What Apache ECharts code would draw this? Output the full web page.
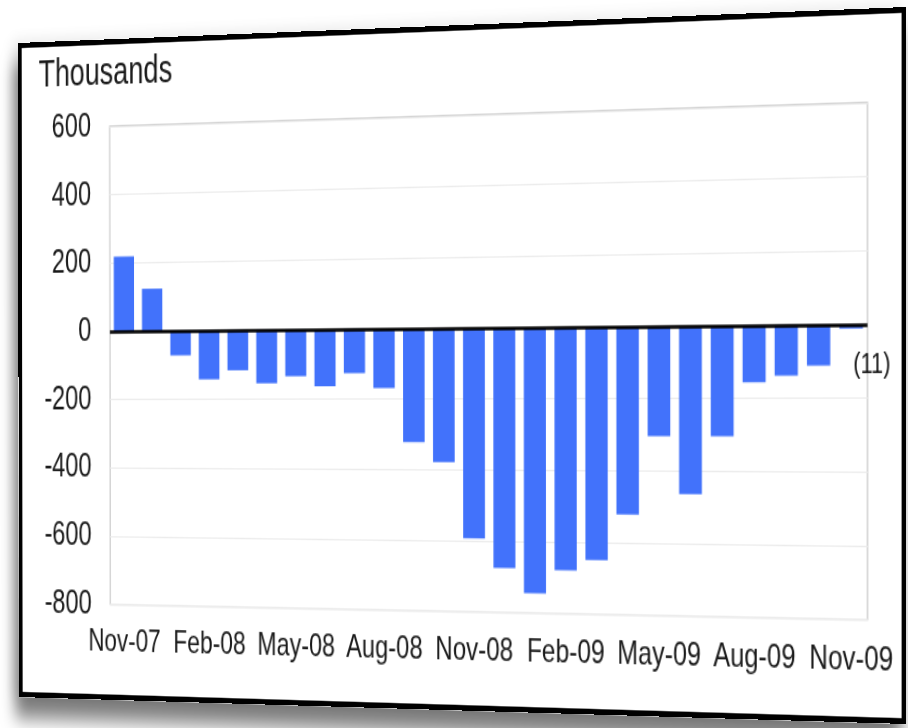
<!DOCTYPE html>
<html><head><meta charset="utf-8">
<script src="https://cdn.jsdelivr.net/npm/echarts@6/dist/echarts.min.js"></script>
<style>
html,body{margin:0;padding:0;background:#fff;width:908px;height:728px;overflow:hidden}
#frame{position:absolute;left:0;top:0;width:886px;height:500px;transform-origin:0 0;background:#fff;box-shadow:-4px 16px 14px rgba(0,0,0,0.5), -6px 0 12px rgba(0,0,0,0.12)}
#chart{position:absolute;left:0;top:0;width:886px;height:500px}
#border{position:absolute;left:0;top:0;right:0;bottom:0;border:4px solid #000;box-sizing:border-box;pointer-events:none}
</style></head>
<body><div id="frame"><div id="chart"></div><div id="border"></div></div>
<script>
// ---- data ----
const categories = ['Nov-07','Dec-07','Jan-08','Feb-08','Mar-08','Apr-08','May-08','Jun-08','Jul-08','Aug-08','Sep-08','Oct-08',
  'Nov-08','Dec-08','Jan-09','Feb-09','Mar-09','Apr-09','May-09','Jun-09','Jul-09','Aug-09','Sep-09','Oct-09','Nov-09'];
const payrollChange = [218,123,-72,-142,-116,-154,-134,-163,-126,-169,-323,-379,
  -593,-676,-745,-680,-650,-522,-304,-464,-304,-156,-138,-111,-11];
const lastLabel = '(11)';
const yMin = -800, yMax = 600, yStep = 200;
const unitTitle = 'Thousands';

// ---- perspective placement ----
const W = 886, HS = 500;
const frameQuad = [[18,43],[906,7],[906,724],[19,697]];   // TL TR BR BL (screen)
const plotQuad  = [[110,128],[868,101],[867,622],[110,602]];

function sq2quad(p){
  const [x0,y0]=p[0],[x1,y1]=p[1],[x2,y2]=p[2],[x3,y3]=p[3];
  const dx1=x1-x2, dx2=x3-x2, dx3=x0-x1+x2-x3;
  const dy1=y1-y2, dy2=y3-y2, dy3=y0-y1+y2-y3;
  const den=dx1*dy2-dx2*dy1;
  const g=(dx3*dy2-dx2*dy3)/den, h=(dx1*dy3-dx3*dy1)/den;
  return [[x1-x0+g*x1, x3-x0+h*x3, x0],[y1-y0+g*y1, y3-y0+h*y3, y0],[g,h,1]];
}
const M = sq2quad(frameQuad);
const H = M.map(r=>[r[0]/W, r[1]/HS, r[2]]);
const m3d = [H[0][0],H[1][0],0,H[2][0], H[0][1],H[1][1],0,H[2][1], 0,0,1,0, H[0][2],H[1][2],0,H[2][2]];
document.getElementById('frame').style.transform = 'matrix3d('+m3d.join(',')+')';
function inv3(a){
  const [[a0,a1,a2],[b0,b1,b2],[c0,c1,c2]]=a;
  const A=b1*c2-b2*c1, B=-(b0*c2-b2*c0), C=b0*c1-b1*c0;
  const det=a0*A+a1*B+a2*C;
  return [[A/det,-(a1*c2-a2*c1)/det,(a1*b2-a2*b1)/det],
          [B/det,(a0*c2-a2*c0)/det,-(a0*b2-a2*b0)/det],
          [C/det,-(a0*c1-a1*c0)/det,(a0*b1-a1*b0)/det]];
}
const Hi = inv3(H);
function toSrc(p){
  const x=Hi[0][0]*p[0]+Hi[0][1]*p[1]+Hi[0][2];
  const y=Hi[1][0]*p[0]+Hi[1][1]*p[1]+Hi[1][2];
  const w=Hi[2][0]*p[0]+Hi[2][1]*p[1]+Hi[2][2];
  return [x/w,y/w];
}
const s = plotQuad.map(toSrc);
const gLeft = (s[0][0]+s[3][0])/2, gRight = W-(s[1][0]+s[2][0])/2;
const gTop = (s[0][1]+s[1][1])/2, gBottom = HS-(s[2][1]+s[3][1])/2;
const tPos = toSrc([34,57]);

const chart = echarts.init(document.getElementById('chart'), null, {renderer:'canvas'});
const FONT = 'Liberation Sans, Arial, sans-serif';
chart.setOption({
  animation:false,
  backgroundColor:'#fff',
  title:{text:unitTitle, left:tPos[0], top:tPos[1]-5, textStyle:{fontFamily:FONT, fontSize:29, fontWeight:'normal', color:'#1a1a1a'}},
  grid:{left:gLeft, right:gRight, top:gTop, bottom:gBottom, show:true, borderColor:'#c8c8c8', borderWidth:1.2, containLabel:false},
  xAxis:{type:'category', data:categories,
    axisLine:{show:false}, axisTick:{show:false},
    axisLabel:{interval:2, margin:17, fontFamily:FONT, fontSize:24, color:'#1a1a1a'}},
  yAxis:{type:'value', min:yMin, max:yMax, interval:yStep,
    axisLine:{show:false}, axisTick:{show:false},
    splitLine:{lineStyle:{color:'#ececec', width:1}},
    axisLabel:{margin:20, fontFamily:FONT, fontSize:25.5, color:'#1a1a1a'}},
  series:[{type:'bar', barCategoryGap:'28%',
    itemStyle:{color:'#4272fb'},
    data: payrollChange.map((v,i)=> i===payrollChange.length-1
      ? {value:v, label:{show:true, formatter:lastLabel, position:'bottom', offset:[19,11], fontFamily:FONT, fontSize:20, color:'#111'}}
      : v),
    markLine:{silent:true, symbol:['none','none'], label:{show:false},
      lineStyle:{color:'#000', width:2.5, type:'solid'}, data:[{yAxis:0}]}
  }]
});
</script>
</body></html>
